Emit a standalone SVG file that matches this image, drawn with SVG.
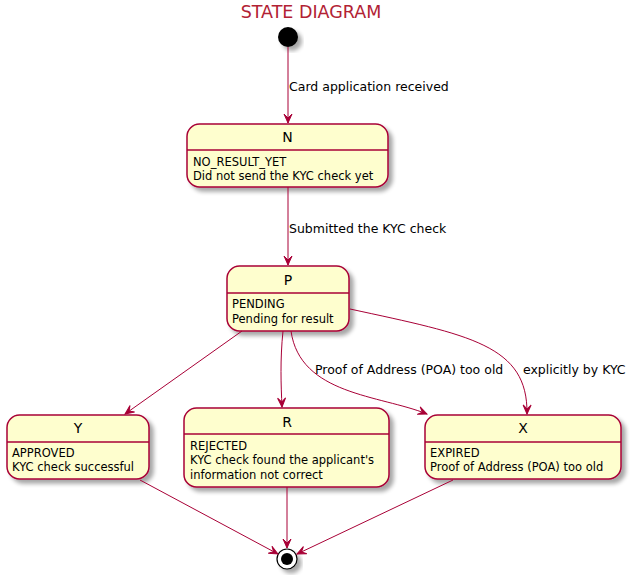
<svg xmlns="http://www.w3.org/2000/svg" width="636" height="579" viewBox="0 0 636 579">
<defs>
<filter id="sh" x="-20%" y="-20%" width="150%" height="150%">
<feGaussianBlur in="SourceAlpha" stdDeviation="2"/>
<feOffset dx="4" dy="4" result="b"/>
<feComponentTransfer><feFuncA type="linear" slope="0.35"/></feComponentTransfer>
<feMerge><feMergeNode/><feMergeNode in="SourceGraphic"/></feMerge>
</filter>
<marker id="ah" viewBox="-10 -5 11 10" refX="0" refY="0" markerWidth="11" markerHeight="10" markerUnits="userSpaceOnUse" orient="auto">
<polygon points="0,0 -9,-4 -5,0 -9,4" fill="#A80036" stroke="#A80036" stroke-width="1"/>
</marker>
</defs>
<style>
.box{fill:#FEFECE;stroke:#A80036;stroke-width:1.5;filter:url(#sh)}
.sep{stroke:#A80036;stroke-width:1.5}
.name{font-family:"DejaVu Sans",sans-serif;font-size:14px;text-anchor:middle;fill:#000}
.body{font-family:"DejaVu Sans",sans-serif;font-size:11.5px;fill:#000}
.lbl{font-family:"DejaVu Sans",sans-serif;font-size:12.5px;fill:#000}
.edge{fill:none;stroke:#A80036;stroke-width:1;marker-end:url(#ah)}
</style>
<text x="311" y="18" font-family="DejaVu Sans,sans-serif" font-size="17.5" text-anchor="middle" fill="#B22234">STATE DIAGRAM</text>

<g id="start"><circle cx="288" cy="37" r="10" fill="#000" filter="url(#sh)"/></g>

<g id="N">
<rect class="box" x="187" y="124" width="201" height="63" rx="12.5"/>
<line class="sep" x1="187" y1="150" x2="388" y2="150"/>
<text class="name" x="287.5" y="142">N</text>
<text class="body" x="193" y="166">NO_RESULT_YET</text>
<text class="body" x="193" y="180">Did not send the KYC check yet</text>
</g>

<g id="P">
<rect class="box" x="227" y="266" width="122" height="65" rx="12.5"/>
<line class="sep" x1="227" y1="293" x2="349" y2="293"/>
<text class="name" x="288" y="285">P</text>
<text class="body" x="232" y="308">PENDING</text>
<text class="body" x="232" y="323">Pending for result</text>
</g>

<g id="Y">
<rect class="box" x="7" y="415" width="142" height="64" rx="12.5"/>
<line class="sep" x1="7" y1="442" x2="149" y2="442"/>
<text class="name" x="78" y="433">Y</text>
<text class="body" x="12" y="457">APPROVED</text>
<text class="body" x="12" y="471">KYC check successful</text>
</g>

<g id="R">
<rect class="box" x="184" y="408" width="205" height="79" rx="12.5"/>
<line class="sep" x1="184" y1="434" x2="389" y2="434"/>
<text class="name" x="287" y="427">R</text>
<text class="body" x="190" y="450">REJECTED</text>
<text class="body" x="190" y="464">KYC check found the applicant's</text>
<text class="body" x="190" y="479">information not correct</text>
</g>

<g id="X">
<rect class="box" x="425" y="415" width="196" height="64" rx="12.5"/>
<line class="sep" x1="425" y1="442" x2="621" y2="442"/>
<text class="name" x="523" y="433">X</text>
<text class="body" x="430" y="457">EXPIRED</text>
<text class="body" x="430" y="471">Proof of Address (POA) too old</text>
</g>

<g id="end">
<circle cx="287" cy="559" r="10" fill="#fff" stroke="#000" stroke-width="1.2" filter="url(#sh)"/>
<circle cx="287" cy="559" r="6" fill="#000"/>
</g>

<g id="connectors">
<path class="edge" d="M288,47 L288,123"/>
<text class="lbl" x="289" y="91">Card application received</text>
<path class="edge" d="M288,187 L288,265"/>
<text class="lbl" x="289" y="233">Submitted the KYC check</text>
<path class="edge" d="M242,331 L125,414"/>
<path class="edge" d="M283,331 C280,360 281,385 282,407"/>
<path class="edge" d="M291,331 C300,395 380,395 427,414"/>
<text class="lbl" x="315" y="374">Proof of Address (POA) too old</text>
<path class="edge" d="M350,309 C470,335 528,345 527,414"/>
<text class="lbl" x="523" y="374">explicitly by KYC</text>
<path class="edge" d="M140,480 L278,554"/>
<path class="edge" d="M287,487 L287,548"/>
<path class="edge" d="M453,480 L297,554"/>
</g>
</svg>
